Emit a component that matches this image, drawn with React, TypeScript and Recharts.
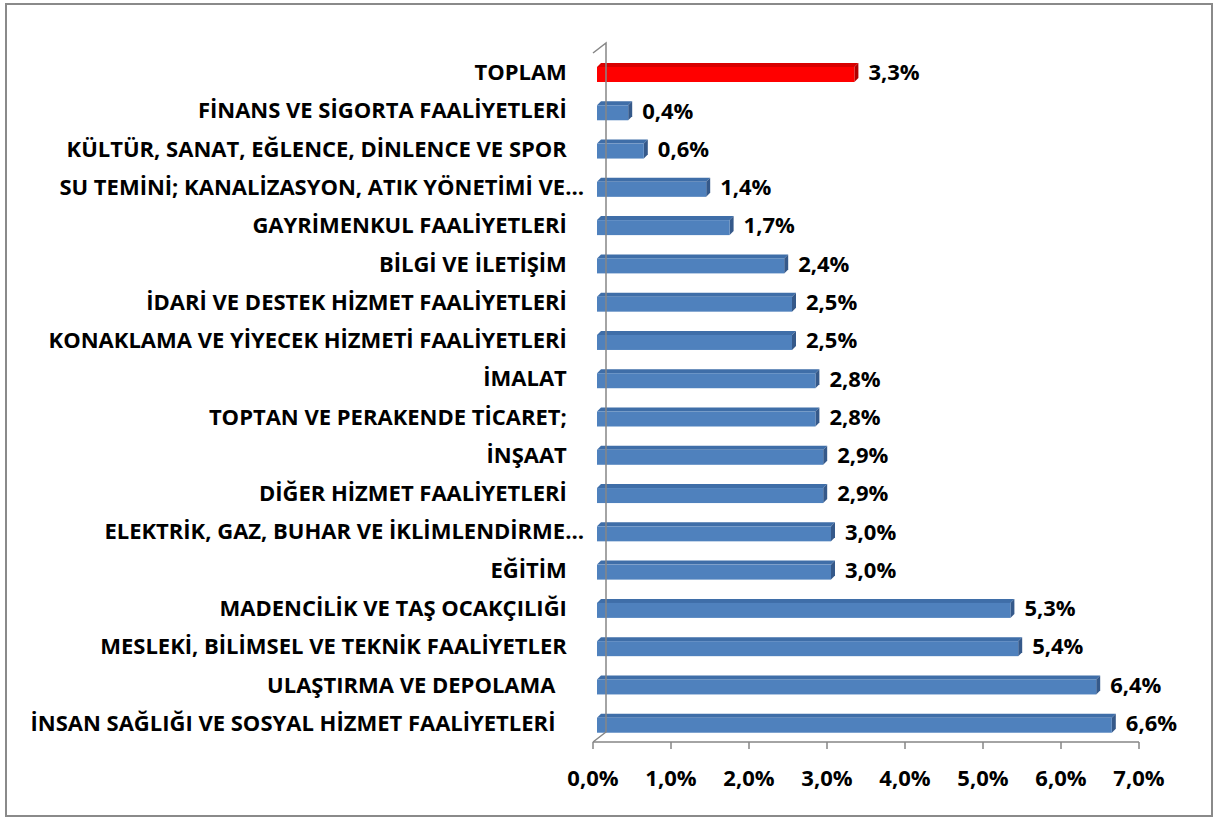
import { BarChart, Bar, XAxis, YAxis, LabelList, Cell } from 'recharts';

// categories top → bottom, as in the source sheet (trailing spaces kept)
const sectors = [
  'TOPLAM   ',
  'FİNANS VE SİGORTA FAALİYETLERİ   ',
  'KÜLTÜR, SANAT, EĞLENCE, DİNLENCE VE SPOR   ',
  'SU TEMİNİ; KANALİZASYON, ATIK YÖNETİMİ VE…',
  'GAYRİMENKUL FAALİYETLERİ   ',
  'BİLGİ VE İLETİŞİM   ',
  'İDARİ VE DESTEK HİZMET FAALİYETLERİ   ',
  'KONAKLAMA VE YİYECEK HİZMETİ FAALİYETLERİ   ',
  'İMALAT   ',
  'TOPTAN VE PERAKENDE TİCARET;   ',
  'İNŞAAT   ',
  'DİĞER HİZMET FAALİYETLERİ   ',
  'ELEKTRİK, GAZ, BUHAR VE İKLİMLENDİRME…',
  'EĞİTİM   ',
  'MADENCİLİK VE TAŞ OCAKÇILIĞI   ',
  'MESLEKİ, BİLİMSEL VE TEKNİK FAALİYETLER   ',
  'ULAŞTIRMA VE DEPOLAMA     ',
  'İNSAN SAĞLIĞI VE SOSYAL HİZMET FAALİYETLERİ     ',
];
const rates = [3.3, 0.4, 0.6, 1.4, 1.7, 2.4, 2.5, 2.5, 2.8, 2.8, 2.9, 2.9, 3.0, 3.0, 5.3, 5.4, 6.4, 6.6];
const xTicks = [0, 1, 2, 3, 4, 5, 6, 7];
const bandTicks = Array.from({ length: sectors.length + 1 }, (_, i) => i);

const data = sectors.map((name, i) => ({ name, rate: rates[i] }));

const W = 1219;
const H = 821;
const MARGIN = { top: 53, right: 80, bottom: 29, left: 8 };
const CAT_W = 585;
const X_AXIS_H = 50;
const PLOT_LEFT = MARGIN.left + CAT_W;
const PLOT_TOP = MARGIN.top;
const PLOT_BOTTOM = H - MARGIN.bottom - X_AXIS_H;
const WALL_DX = 13;
const WALL_DY = 10;

const FONT = '"Open Sans", Lato, sans-serif';
const FS = 22;
const AXIS = '#868686';
const BLUE = { front: '#4F81BD', top: '#3F6EA8', side: '#35598A' };
const RED = { front: '#FF0000', top: '#D80000', side: '#B00000' };

const fmt = (v: number) => `${v.toFixed(1).replace('.', ',')}%`;

// bar with a little 3D top and right face
function Bar3D(props: any) {
  const { x, y, width, height, index } = props;
  const c = index === 0 ? RED : BLUE;
  const d = 4;
  const bx = x + 4;
  return (
    <g>
      <polygon
        points={`${bx},${y + d} ${bx + d},${y} ${bx + width + d},${y} ${bx + width},${y + d}`}
        fill={c.top}
      />
      <polygon
        points={`${bx + width},${y + d} ${bx + width + d},${y} ${bx + width + d},${y + height - d} ${bx + width},${y + height}`}
        fill={c.side}
      />
      <rect x={bx} y={y + d} width={width} height={height - d} fill={c.front} />
    </g>
  );
}

function CatTick({ x, y, payload }: any) {
  return (
    <text
      x={x}
      y={y}
      dy={8}
      textAnchor="end"
      fill="#000"
      fontFamily={FONT}
      fontWeight={700}
      fontSize={FS}
      style={{ whiteSpace: 'pre' }}
    >
      {payload.value}
    </text>
  );
}

export default function App() {
  return (
    <div style={{ position: 'absolute', left: 0, top: 0, width: W, height: H, background: '#fff' }}>
      <div
        style={{
          position: 'absolute',
          left: 5,
          top: 3,
          width: 1208,
          height: 814,
          boxSizing: 'border-box',
          border: '2px solid #8a8a8a',
        }}
      />
      <div style={{ position: 'absolute', left: 0, top: 0 }}>
        <BarChart width={W} height={H} data={data} layout="vertical" margin={MARGIN} barSize={19}>
          <YAxis
            yAxisId="bands"
            type="number"
            domain={[0, sectors.length]}
            ticks={bandTicks}
            width={0}
            tick={false}
            tickSize={7}
            axisLine={{ stroke: AXIS, strokeWidth: 1.5 }}
            tickLine={{ stroke: AXIS, strokeWidth: 1.5 }}
          />
          <YAxis
            type="category"
            dataKey="name"
            width={CAT_W}
            axisLine={false}
            tickLine={false}
            tick={<CatTick />}
            tickMargin={3}
            interval={0}
          />
          <XAxis
            type="number"
            domain={[0, 7]}
            ticks={xTicks}
            height={X_AXIS_H}
            tickFormatter={fmt}
            axisLine={{ stroke: AXIS, strokeWidth: 1.5 }}
            tickLine={{ stroke: AXIS, strokeWidth: 1.5 }}
            tickSize={7}
            tickMargin={21}
            tick={{ fill: '#000', fontFamily: FONT, fontWeight: 700, fontSize: FS }}
          />
          <Bar dataKey="rate" shape={<Bar3D />} isAnimationActive={false}>
            {data.map((_, i) => (
              <Cell key={i} fill={i === 0 ? RED.front : BLUE.front} />
            ))}
            <LabelList
              dataKey="rate"
              position="right"
              offset={18}
              formatter={(v: any) => fmt(Number(v))}
              style={{ fill: '#000', fontFamily: FONT, fontWeight: 700, fontSize: FS }}
            />
          </Bar>
        </BarChart>
      </div>
      {/* back wall of the 3D plot area */}
      <svg
        width={W}
        height={H}
        style={{ position: 'absolute', left: 0, top: 0, pointerEvents: 'none' }}
      >
        <polyline
          points={`${PLOT_LEFT},${PLOT_TOP} ${PLOT_LEFT + WALL_DX},${PLOT_TOP - WALL_DY} ${PLOT_LEFT + WALL_DX},${PLOT_BOTTOM - WALL_DY} ${PLOT_LEFT},${PLOT_BOTTOM}`}
          fill="none"
          stroke={AXIS}
          strokeWidth={1.5}
        />
      </svg>
    </div>
  );
}
